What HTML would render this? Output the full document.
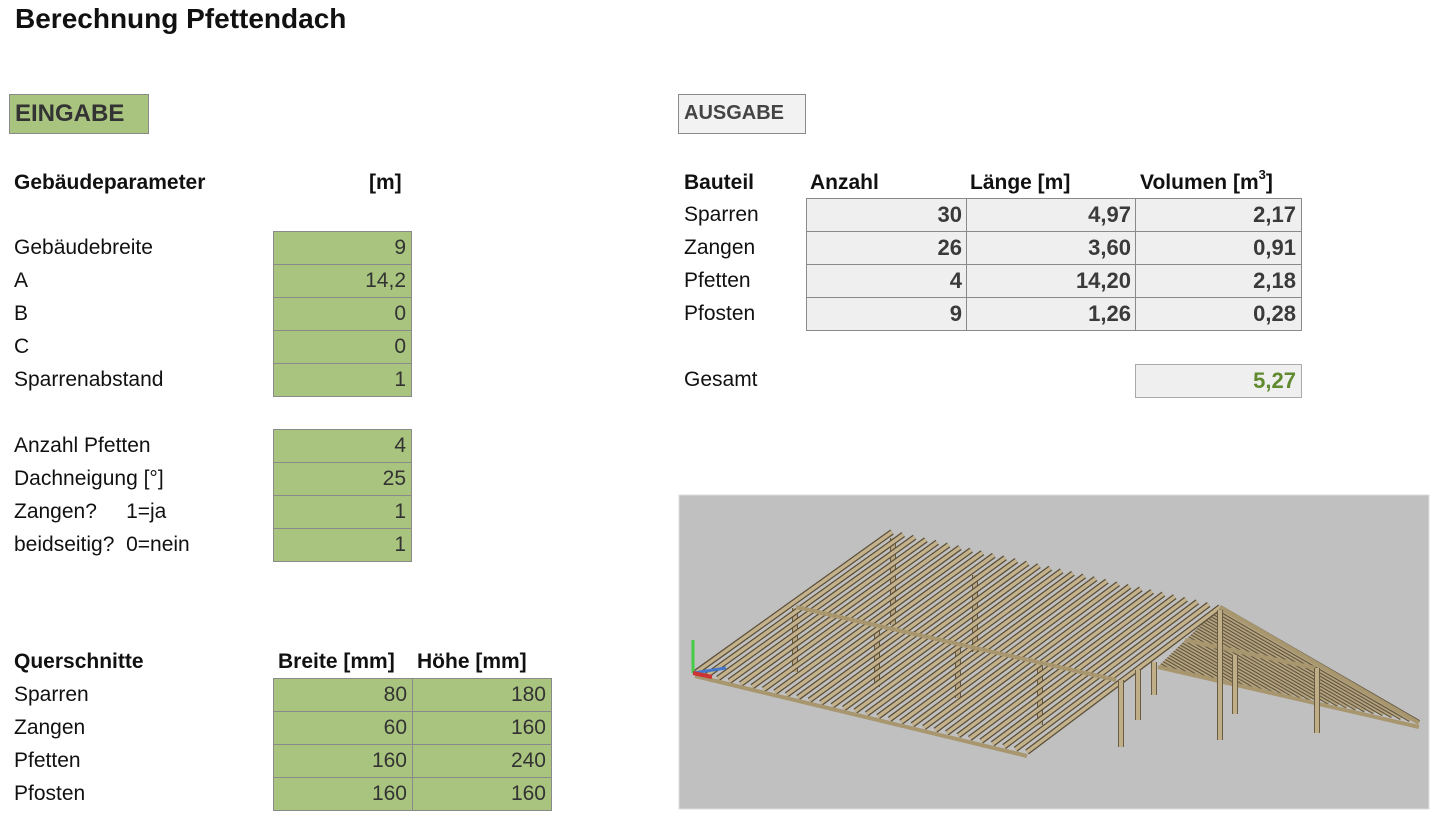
<!DOCTYPE html>
<html><head><meta charset="utf-8"><style>
body{margin:0;width:1440px;height:818px;background:#fff;position:relative;overflow:hidden;font-family:"Liberation Sans",sans-serif;color:#111}
.a{position:absolute;white-space:nowrap;font-size:21px;line-height:33px}
.b{font-weight:bold}
.c{position:absolute;box-sizing:border-box;border:1.5px solid #8a8a8a;background:#a9c47f;text-align:right;padding-right:5px;font-size:21px;line-height:31px;color:#333}
.g{background:#efefef;font-family:"Liberation Sans Narrow","Liberation Sans",sans-serif;font-weight:bold;color:#3a3a3a;font-size:22px}
.n{font-family:"Liberation Sans Narrow","Liberation Sans",sans-serif}
sup{font-size:13px;line-height:0;position:relative;top:-2px}
</style></head><body>
<div class="a b" style="left:15px;top:2px;font-size:28px">Berechnung Pfettendach</div>
<div class="c" style="left:9px;top:94px;width:140px;height:40px;text-align:left;padding-left:5px;font-weight:bold;font-size:24px;line-height:37px;color:#333">EINGABE</div>
<div class="c" style="left:678px;top:94px;width:128px;height:40px;text-align:left;padding-left:5px;font-weight:bold;font-size:20px;line-height:37px;color:#444;background:#f2f2f2">AUSGABE</div>

<div class="a b" style="left:14px;top:166px">Gebäudeparameter</div>
<div class="a b" style="left:369px;top:166px">[m]</div>
<div class="a" style="left:14px;top:231px">Gebäudebreite</div>
<div class="a" style="left:14px;top:264px">A</div>
<div class="a" style="left:14px;top:297px">B</div>
<div class="a" style="left:14px;top:330px">C</div>
<div class="a" style="left:14px;top:363px">Sparrenabstand</div>
<div class="a" style="left:14px;top:429px">Anzahl Pfetten</div>
<div class="a" style="left:14px;top:462px">Dachneigung [°]</div>
<div class="a" style="left:14px;top:495px">Zangen? &nbsp;&nbsp;&nbsp;&nbsp;1=ja</div>
<div class="a" style="left:14px;top:528px">beidseitig? &nbsp;0=nein</div>
<div class="c" style="left:273px;top:231px;width:139px;height:34px">9</div>
<div class="c" style="left:273px;top:264px;width:139px;height:34px">14,2</div>
<div class="c" style="left:273px;top:297px;width:139px;height:34px">0</div>
<div class="c" style="left:273px;top:330px;width:139px;height:34px">0</div>
<div class="c" style="left:273px;top:363px;width:139px;height:34px">1</div>
<div class="c" style="left:273px;top:429px;width:139px;height:34px">4</div>
<div class="c" style="left:273px;top:462px;width:139px;height:34px">25</div>
<div class="c" style="left:273px;top:495px;width:139px;height:34px">1</div>
<div class="c" style="left:273px;top:528px;width:139px;height:34px">1</div>

<div class="a b" style="left:14px;top:645px">Querschnitte</div>
<div class="a b" style="left:278px;top:645px">Breite [mm]</div>
<div class="a b" style="left:417px;top:645px">Höhe [mm]</div>
<div class="a" style="left:14px;top:678px">Sparren</div>
<div class="a" style="left:14px;top:711px">Zangen</div>
<div class="a" style="left:14px;top:744px">Pfetten</div>
<div class="a" style="left:14px;top:777px">Pfosten</div>
<div class="c" style="left:273px;top:678px;width:140px;height:34px">80</div>
<div class="c" style="left:412px;top:678px;width:140px;height:34px">180</div>
<div class="c" style="left:273px;top:711px;width:140px;height:34px">60</div>
<div class="c" style="left:412px;top:711px;width:140px;height:34px">160</div>
<div class="c" style="left:273px;top:744px;width:140px;height:34px">160</div>
<div class="c" style="left:412px;top:744px;width:140px;height:34px">240</div>
<div class="c" style="left:273px;top:777px;width:140px;height:34px">160</div>
<div class="c" style="left:412px;top:777px;width:140px;height:34px">160</div>

<div class="a b n" style="left:684px;top:166px">Bauteil</div>
<div class="a b n" style="left:810px;top:166px">Anzahl</div>
<div class="a b n" style="left:970px;top:166px">Länge [m]</div>
<div class="a b n" style="left:1140px;top:166px">Volumen [m<sup>3</sup>]</div>
<div class="a" style="left:684px;top:198px">Sparren</div>
<div class="a" style="left:684px;top:231px">Zangen</div>
<div class="a" style="left:684px;top:264px">Pfetten</div>
<div class="a" style="left:684px;top:297px">Pfosten</div>
<div class="a" style="left:684px;top:363px">Gesamt</div>

<div class="c g" style="left:806px;top:198px;width:162px;height:34px">30</div>
<div class="c g" style="left:966px;top:198px;width:171px;height:34px">4,97</div>
<div class="c g" style="left:1135px;top:198px;width:167px;height:34px">2,17</div>
<div class="c g" style="left:806px;top:231px;width:162px;height:34px">26</div>
<div class="c g" style="left:966px;top:231px;width:171px;height:34px">3,60</div>
<div class="c g" style="left:1135px;top:231px;width:167px;height:34px">0,91</div>
<div class="c g" style="left:806px;top:264px;width:162px;height:34px">4</div>
<div class="c g" style="left:966px;top:264px;width:171px;height:34px">14,20</div>
<div class="c g" style="left:1135px;top:264px;width:167px;height:34px">2,18</div>
<div class="c g" style="left:806px;top:297px;width:162px;height:34px">9</div>
<div class="c g" style="left:966px;top:297px;width:171px;height:34px">1,26</div>
<div class="c g" style="left:1135px;top:297px;width:167px;height:34px">0,28</div>
<div class="c g" style="left:1135px;top:364px;width:167px;height:34px;color:#5f8a2e;border-color:#aaa">5,27</div>

<svg width="1440" height="818" style="position:absolute;left:0;top:0">
<rect x="679" y="495" width="750" height="314" fill="#c0c0c0" stroke="#ddd"/>
<g id="back"></g>
<g stroke="#6a5c42" stroke-width="6">
<line x1="795" y1="608" x2="795" y2="672"/><line x1="877" y1="628" x2="877" y2="687"/>
<line x1="958" y1="648" x2="958" y2="698"/><line x1="1040" y1="665" x2="1040" y2="725"/>
<line x1="893" y1="538" x2="893" y2="625"/><line x1="975" y1="575" x2="975" y2="652"/>
</g>
<g stroke="#bba985" stroke-width="4">
<line x1="795" y1="608" x2="795" y2="672"/><line x1="877" y1="628" x2="877" y2="687"/>
<line x1="958" y1="648" x2="958" y2="698"/><line x1="1040" y1="665" x2="1040" y2="725"/>
<line x1="893" y1="538" x2="893" y2="625"/><line x1="975" y1="575" x2="975" y2="652"/>
</g>
<g id="r"></g>
<g stroke="#a8966e" stroke-width="4">
<line x1="695" y1="676" x2="1027" y2="756"/>
<line x1="1220" y1="607" x2="1419" y2="723"/>
<line x1="1158" y1="667" x2="1419" y2="727"/>
<line x1="796" y1="607" x2="1116" y2="680"/>
<line x1="1185" y1="640" x2="1315" y2="668"/>
</g>
<g stroke="#6a5c42" stroke-width="6">
<line x1="1121" y1="680" x2="1121" y2="747"/><line x1="1138" y1="670" x2="1138" y2="720"/>
<line x1="1154" y1="662" x2="1154" y2="695"/><line x1="1220" y1="610" x2="1220" y2="740"/>
<line x1="1235" y1="655" x2="1235" y2="714"/><line x1="1317" y1="668" x2="1317" y2="733"/>
</g>
<g stroke="#c0ae88" stroke-width="4">
<line x1="1121" y1="680" x2="1121" y2="747"/><line x1="1138" y1="670" x2="1138" y2="720"/>
<line x1="1154" y1="662" x2="1154" y2="695"/><line x1="1220" y1="610" x2="1220" y2="740"/>
<line x1="1235" y1="655" x2="1235" y2="714"/><line x1="1317" y1="668" x2="1317" y2="733"/>
</g>
<line x1="693" y1="673" x2="693" y2="640" stroke="#4c4" stroke-width="3"/>
<line x1="693" y1="673" x2="726" y2="668" stroke="#47c" stroke-width="3"/>
<line x1="693" y1="673" x2="712" y2="677" stroke="#c33" stroke-width="4"/>
</svg>
<script>
var s='',b='';
for(var i=0;i<30;i++){var t=i/29;var x1=1220-t*62,y1=607+t*60,x2=1419-t*261,y2=722-t*55;
b+='<line x1="'+x1+'" y1="'+y1+'" x2="'+x2+'" y2="'+y2+'" stroke="#5e523c" stroke-width="4"/><line x1="'+x1+'" y1="'+y1+'" x2="'+x2+'" y2="'+y2+'" stroke="#b3a27e" stroke-width="2"/>';}
document.getElementById('back').innerHTML=b;
for(var i=0;i<30;i++){var t=i/29;var x1=892+328*t,y1=532+75*t,x2=695+332*t,y2=673+79*t;
s+='<line x1="'+x1+'" y1="'+y1+'" x2="'+x2+'" y2="'+y2+'" stroke="#5a4e38" stroke-width="6"/><line x1="'+x1+'" y1="'+y1+'" x2="'+x2+'" y2="'+y2+'" stroke="#c4b28c" stroke-width="3.5"/>';}
document.getElementById('r').innerHTML=s;
</script>
</body></html>
